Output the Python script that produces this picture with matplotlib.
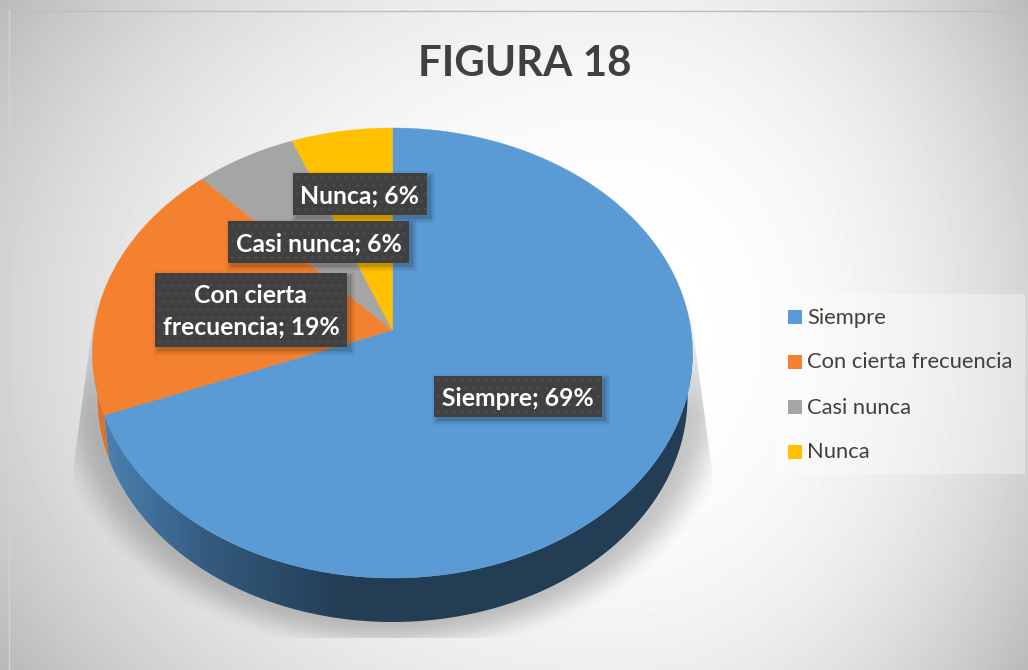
import numpy as np
import matplotlib
matplotlib.use("Agg")
import matplotlib.pyplot as plt
from matplotlib.patches import Polygon, Rectangle
from matplotlib.colors import LinearSegmentedColormap

plt.rcParams['font.family'] = ['Lato', 'DejaVu Sans']

# data
categories = ["Siempre", "Con cierta frecuencia", "Casi nunca", "Nunca"]
values = [69, 19, 6, 6]
colors = ["#5B9BD5", "#F4812F", "#A5A5A5", "#FFC000"]
title = "FIGURA 18"
label_texts = ["Siempre; 69%", "Con cierta\nfrecuencia; 19%", "Casi nunca; 6%", "Nunca; 6%"]

# layout in image pixels
W, H = 1028, 670
cx, cy = 392.5, 353
a, b = 300, 225
k = 23 / 225      # perspective: pie centre sits above the ellipse centre
depth = 44
a_low = 295
label_boxes = [(434, 376, 602, 417), (155, 273, 347, 347), (228, 221, 409, 263), (293, 173, 427, 215)]

fig = plt.figure(figsize=(W / 100, H / 100), dpi=100)
ax = fig.add_axes([0, 0, 1, 1])
ax.set_xlim(0, W)
ax.set_ylim(H, 0)
ax.axis('off')

# =========================================================
# Background gradient
# =========================================================
xx, yy = np.meshgrid(np.arange(W) + 0.5, np.arange(H) + 0.5)
bx, by = 620, 330
dx = np.where(xx < bx, (xx - bx) / 600, (xx - bx) / 400)
dy = (yy - by) / 480
d = np.sqrt(dx ** 2 + dy ** 2)
bg = 1 - 0.25 * (d / 1.2) ** 2.5
ax.imshow(bg, extent=(0, W, H, 0), cmap="gray", vmin=0, vmax=1, zorder=0, aspect='auto',
          clip_path=Rectangle((9, 11), W, H, transform=ax.transData))
ax.plot([9, W], [10.5, 10.5], color="#BDBDBD", lw=1, zorder=1)
ax.plot([8.5, 8.5], [10, H], color="#D2D2D2", lw=1, zorder=1)

# =========================================================
# Soft shadow under the pie
# =========================================================
r = np.sqrt(((xx - cx) / a) ** 2 + ((yy - cy - depth) / b) ** 2)
s = np.clip((1.16 - r) / 0.17, 0, 1)
fade = np.clip((yy - 285) / 130, 0, 1)   # shadow dies out towards the top
alpha = 0.22 * s * s * (3 - 2 * s) * fade
shadow = np.zeros((H, W, 4))
shadow[..., 3] = alpha
ax.imshow(shadow, extent=(0, W, H, 0), zorder=2, aspect='auto',
          clip_path=Polygon([(100, 270), (685, 270), (712, 470), (712, 638), (73, 638), (73, 470)],
                            transform=ax.transData))


def rim(frac):
    # point on the top ellipse for a clockwise fraction from 12 o'clock
    ang = 2 * np.pi * np.asarray(frac)
    u, v = np.sin(ang), np.cos(ang)
    w = (v + k) / (1 + k * v)
    return cx + a * u * np.sqrt(1 - k ** 2) / (1 + k * v), cy - b * w


# =========================================================
# Side wall, then the slices on top
# =========================================================
side_cmap = LinearSegmentedColormap.from_list(
    "side", [(0, "#4C80B0"), (0.45, "#33597C"), (1, "#223D54")])
cum = np.cumsum([0] + values) / sum(values)
for i in range(len(values)):
    t = np.linspace(cum[i], cum[i + 1], 400)
    x, y = rim(t)
    keep = y >= cy
    if keep.any():
        x, y = x[keep], y[keep]
        low_x = cx + (x - cx) * a_low / a
        low_y = y + depth
        poly = np.column_stack([np.r_[x, low_x[::-1]], np.r_[y, low_y[::-1]]])
        if categories[i] == "Siempre":
            ramp = np.clip((np.arange(W) + 0.5 - 105) / (345 - 105), 0, 1)[None, :]
            ax.imshow(ramp, extent=(0, W, H, 0), cmap=side_cmap, zorder=3, aspect='auto',
                      clip_path=Polygon(poly, transform=ax.transData))
        else:
            ax.add_patch(Polygon(poly, fc="#D9722B", ec="none", zorder=3))

for i in range(len(values)):
    t = np.linspace(cum[i], cum[i + 1], 400)
    x, y = rim(t)
    ax.add_patch(Polygon(np.column_stack([np.r_[cx, x], np.r_[cy - b * k, y]]),
                         fc=colors[i], ec=colors[i], lw=0.3, zorder=4))
ax.set_xlim(0, W)
ax.set_ylim(H, 0)

# =========================================================
# Data labels
# =========================================================
for text, (x0, y0, x1, y1) in zip(label_texts, label_boxes):
    for grow, al in [(5, 0.04), (3.5, 0.05), (2, 0.07), (0.5, 0.09)]:
        ax.add_patch(Rectangle((x0 + 3 - grow, y0 + 3 - grow), x1 - x0 + 2 * grow, y1 - y0 + 2 * grow,
                               fc="black", ec="none", alpha=al, zorder=5))
    ax.add_patch(Rectangle((x0, y0), x1 - x0, y1 - y0, fc="#404040", ec="none", zorder=6))
    gx, gy = np.meshgrid(np.arange(x0 + 4, x1 - 1, 8), np.arange(y0 + 4, y1 - 1, 8))
    gx = gx + 4 * (((gy - y0) // 8) % 2)
    keep = gx < x1 - 1
    ax.scatter(gx[keep], gy[keep], s=4, color="#4E4E4E", linewidths=0, zorder=7)
    ax.text((x0 + x1) / 2, (y0 + y1) / 2 + 1.5, text, color="white", fontsize=17.8, fontweight='bold',
            ha='center', va='center', linespacing=1.45, zorder=8)

# =========================================================
# Title and legend
# =========================================================
ax.text(525, 63.5, title, color="#404040", fontsize=30.3, fontweight='bold', ha='center', va='center', zorder=8)

ax.add_patch(Rectangle((776, 294), 249, 180, fc="white", ec="none", alpha=0.35, zorder=3))
for i, name in enumerate(categories):
    row_y = 316 + 45 * i
    ax.add_patch(Rectangle((788, row_y - 6.5), 14, 14, fc=colors[i], ec="none", zorder=4))
    ax.text(807, row_y + 1.5, name, color="#404040", fontsize=15.8, ha='left', va='center', zorder=8)

plt.savefig("out.png", dpi=100)
